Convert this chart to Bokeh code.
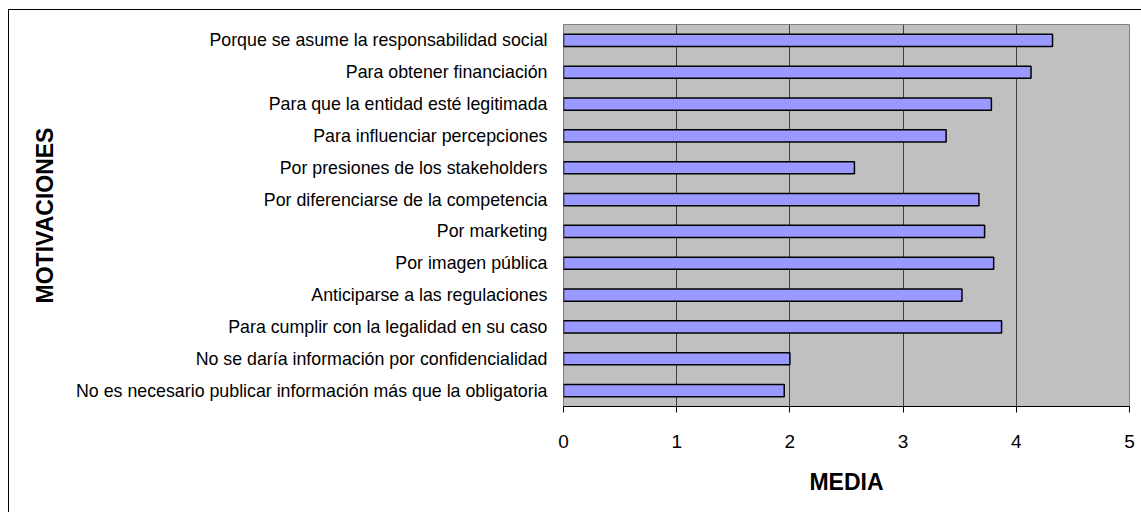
from bokeh.plotting import figure
from bokeh.models import FixedTicker, ColumnDataSource
from bokeh.embed import file_html
from bokeh.resources import INLINE

categories = [
    "Porque se asume la responsabilidad social",
    "Para obtener financiación",
    "Para que la entidad esté legitimada",
    "Para influenciar percepciones",
    "Por presiones de los stakeholders",
    "Por diferenciarse de la competencia",
    "Por marketing",
    "Por imagen pública",
    "Anticiparse a las regulaciones",
    "Para cumplir con la legalidad en su caso",
    "No se daría información por confidencialidad",
    "No es necesario publicar información más que la obligatoria",
]
values = [4.32, 4.13, 3.78, 3.38, 2.57, 3.67, 3.72, 3.80, 3.52, 3.87, 2.00, 1.95]
x_ticks = [0, 1, 2, 3, 4, 5]
x_title = "MEDIA"
y_title = "MOTIVACIONES"

OX, OY = 8, 9
W, H = 1141 - OX, 512 - OY
p = figure(width=W, height=H, y_range=list(reversed(categories)), x_range=(0, 5),
           output_backend="svg", toolbar_location=None,
           min_border_left=562 - OX, min_border_right=13,
           min_border_top=23 - OY, min_border_bottom=107)
p.margin = (OY, 0, 0, OX)
p.styles = {"border-left": "1px solid black", "border-top": "1px solid black",
            "box-sizing": "border-box"}

src = ColumnDataSource(dict(cat=categories, val=values))
p.hbar(y="cat", right="val", left=0, height=0.38, source=src,
       fill_color="#9999FF", line_color="black", line_width=1.5)

p.background_fill_color = "#C0C0C0"
p.border_fill_color = "white"
p.outline_line_color = "#808080"
p.outline_line_width = 1

p.xaxis.ticker = FixedTicker(ticks=x_ticks)
p.xgrid.ticker = FixedTicker(ticks=x_ticks)
p.xgrid.grid_line_color = "#404040"
p.xgrid.grid_line_width = 1
p.ygrid.grid_line_color = None

font = "Liberation Sans"
p.xaxis.axis_line_color = "black"
p.xaxis.major_tick_in = 0
p.xaxis.major_tick_out = 6
p.xaxis.major_tick_line_color = "black"
p.xaxis.minor_tick_line_color = None
p.xaxis.major_label_text_font = font
p.xaxis.major_label_text_font_size = "19px"
p.xaxis.major_label_text_color = "black"
p.xaxis.major_label_standoff = 22
p.xaxis.axis_label = x_title
p.xaxis.axis_label_text_font = font
p.xaxis.axis_label_text_font_style = "bold"
p.xaxis.axis_label_text_font_size = "23px"
p.xaxis.axis_label_text_color = "black"
p.xaxis.axis_label_standoff = 18

p.yaxis.axis_line_color = None
p.yaxis.major_tick_line_color = None
p.yaxis.minor_tick_line_color = None
p.yaxis.major_label_text_font = font
p.yaxis.major_label_text_font_size = "17.8px"
p.yaxis.major_label_text_color = "black"
p.yaxis.major_label_standoff = 10
p.yaxis.axis_label = y_title
p.yaxis.axis_label_text_font = font
p.yaxis.axis_label_text_font_style = "bold"
p.yaxis.axis_label_text_font_size = "23px"
p.yaxis.axis_label_text_color = "black"
p.yaxis.axis_label_standoff = 15

open("out.html", "w").write(file_html(p, INLINE))
